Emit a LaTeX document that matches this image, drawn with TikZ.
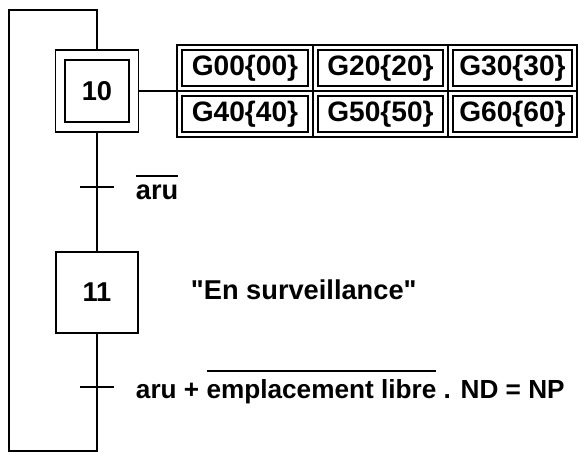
\documentclass[tikz,border=0pt]{standalone}
\usepackage{fontspec}
\setmainfont{Liberation Sans}[Ligatures=TeXOff]
\usetikzlibrary{positioning, calc}

% overline drawn above the real glyph tops
\newcommand{\surligne}[1]{\vbox{\hrule height 1.1pt\kern 4.5pt\hbox{#1}}}

\begin{document}
\begin{tikzpicture}[
    x=0.02cm, y=0.02cm,
    line width=1.1pt,
    font=\fontsize{15.5}{18}\selectfont\bfseries,
    stepbox/.style={draw, rectangle, minimum width=1.64cm, minimum height=1.62cm, inner sep=0pt},
    initstep/.style={draw, rectangle, minimum width=1.28cm, minimum height=1.24cm, inner sep=0pt},
    initframe/.style={draw, rectangle, minimum width=1.66cm, minimum height=1.64cm, inner sep=0pt},
    actframe/.style={draw, rectangle, minimum height=0.92cm, inner sep=0pt},
    actcell/.style={draw, rectangle, minimum height=0.72cm, inner sep=0pt, font=\fontsize{16}{18}\selectfont\bfseries},
    condlabel/.style={anchor=west, inner sep=0pt}
]
\useasboundingbox (0,0) rectangle (579,452);

% Steps
\node[initstep] (s10) at (97,361) {10};
\node[initframe] (s10f) at (s10) {};
\node[stepbox] (s11) at (97,159.5) {11};

% Actions of step 10
\foreach \nm/\txt/\cx/\cy/\wo/\wi in {
    a00/G00\{00\}/245/384/2.72/2.52,
    a20/G20\{20\}/380.5/384/2.70/2.50,
    a30/G30\{30\}/512.5/384/2.58/2.38,
    a40/G40\{40\}/245/338/2.72/2.52,
    a50/G50\{50\}/380.5/338/2.70/2.50,
    a60/G60\{60\}/512.5/338/2.58/2.38} {
  \node[actframe, minimum width=\wo cm] (\nm f) at (\cx,\cy) {};
  \node[actcell, minimum width=\wi cm] (\nm) at (\cx,\cy) {\txt};
}
\draw (s10f.east) -- (s10f.east -| a00f.west);

% Action of step 11
\node[anchor=west, inner sep=0pt] (act11) at (190,162) {"En surveillance"};

% Transitions
\coordinate (t1) at (97,265);
\coordinate (t2) at (97,65);
\draw ($(t1)+(-17,0)$) -- ($(t1)+(17,0)$);
\draw ($(t2)+(-17,0)$) -- ($(t2)+(17,0)$);
\node[condlabel] (c1) at (135,265) {\surligne{aru}};
\node[condlabel, font=\fontsize{14.9}{18}\selectfont\bfseries] (c2) at (135,65) {aru + \surligne{emplacement libre} . ND = NP};

% Links and loop back
\coordinate (bot) at (97,1);
\coordinate (lb) at (9,1);
\coordinate (lt) at (9,442);
\coordinate (top) at (97,442);
\draw (s10f.south) -- (t1) -- (s11.north);
\draw (s11.south) -- (t2) -- (bot) -- (lb) -- (lt) -- (top) -- (s10f.north);

\end{tikzpicture}
\end{document}
